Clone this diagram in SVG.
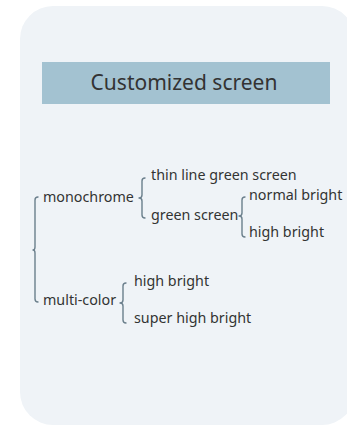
<svg xmlns="http://www.w3.org/2000/svg" width="347" height="429" viewBox="0 0 347 429">
<style>
text{font-family:"Noto Sans","Open Sans","Liberation Sans",sans-serif;fill:#333;}
.t{font-size:14.3px;}
.title{font-size:21px;}
.br{fill:none;stroke:#6b7f8c;stroke-width:1.4;stroke-linecap:round;stroke-linejoin:round;}
</style>
<rect x="20" y="6" width="335" height="419" rx="33" ry="33" fill="#eff3f7"/>
<g id="title">
<rect x="42" y="62" width="288" height="42" fill="#a3c2d1"/>
<text class="title" x="184" y="90" text-anchor="middle">Customized screen</text>
</g>
<g id="connectors">
<path class="br" d="M38,197 Q35,197 35,200 L35,247 Q35,250 33,250 Q35,250 35,253 L35,299 Q35,302 38,302"/>
<path class="br" d="M145,178 Q142,178 142,181 L142,195 Q142,198 139,198 Q142,198 142,201 L142,215 Q142,218 145,218"/>
<path class="br" d="M245,197 Q242,197 242,200 L242,213 Q242,216 239,216 Q242,216 242,219 L242,234 Q242,237 245,237"/>
<path class="br" d="M126,283 Q123,283 123,286 L123,300 Q123,303 120,303 Q123,303 123,306 L123,320 Q123,323 126,323"/>
</g>
<g id="monochrome"><text class="t" x="43" y="202">monochrome</text></g>
<g id="multi-color"><text class="t" x="43" y="305">multi-color</text></g>
<g id="thin-line"><text class="t" x="151" y="180">thin line green screen</text></g>
<g id="green-screen"><text class="t" x="151" y="220">green screen</text></g>
<g id="normal-bright"><text class="t" x="249" y="200">normal bright</text></g>
<g id="high-bright-1"><text class="t" x="249" y="237">high bright</text></g>
<g id="high-bright-2"><text class="t" x="134" y="286">high bright</text></g>
<g id="super-high-bright"><text class="t" x="134" y="323">super high bright</text></g>
</svg>
